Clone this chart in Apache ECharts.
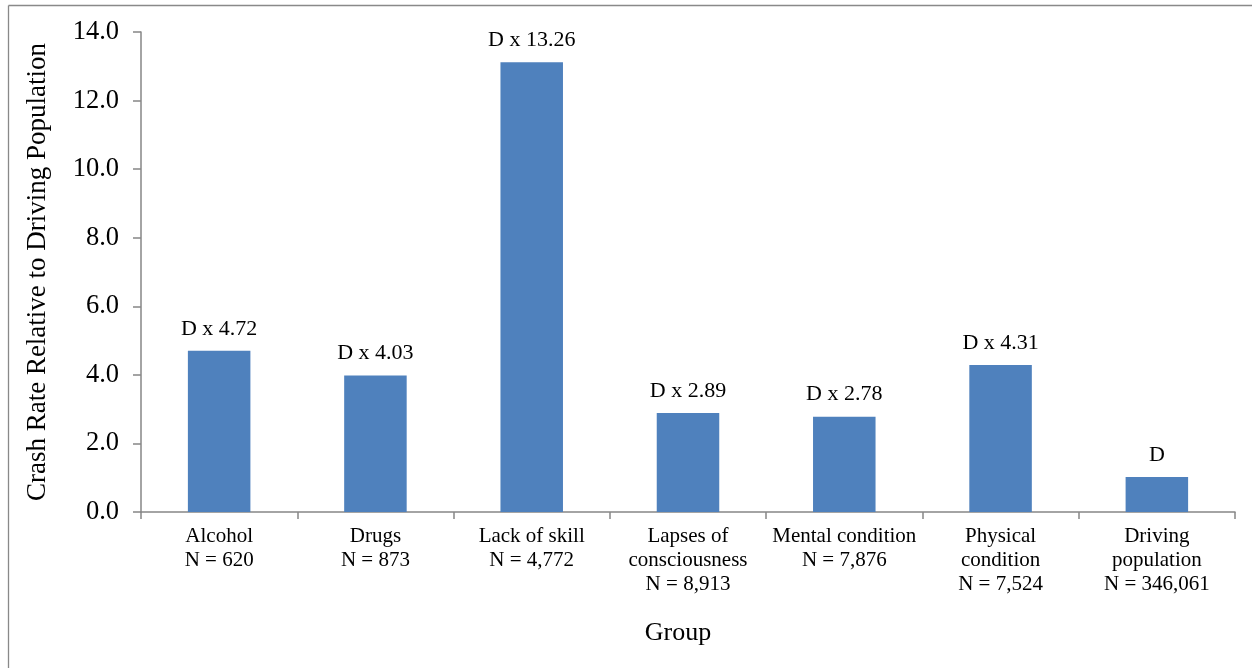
<!DOCTYPE html>
<html>
<head>
<meta charset="utf-8">
<script src="https://cdn.jsdelivr.net/npm/echarts@6/dist/echarts.min.js"></script>
<style>
html,body{margin:0;padding:0;background:#fff;}
#c{width:1252px;height:668px;}
</style>
</head>
<body>
<div id="c"></div>
<script>
var categories = ["Alcohol\nN = 620", "Drugs\nN = 873", "Lack of skill\nN = 4,772", "Lapses of\nconsciousness\nN = 8,913", "Mental condition\nN = 7,876", "Physical\ncondition\nN = 7,524", "Driving\npopulation\nN = 346,061"];
var values = [4.70, 3.98, 13.12, 2.89, 2.78, 4.29, 1.02];
var barLabels = ["D x 4.72", "D x 4.03", "D x 13.26", "D x 2.89", "D x 2.78", "D x 4.31", "D"];
var yTicks = {min: 0, max: 14, interval: 2};

var font = "'Liberation Serif', 'Times New Roman', serif";
var axisColor = '#868686';
var chart = echarts.init(document.getElementById('c'));
chart.setOption({
  animation: false,
  backgroundColor: '#fff',
  graphic: [
    {type: 'line', shape: {x1: 8.5, y1: 5.5, x2: 8.5, y2: 668}, style: {stroke: '#898989', lineWidth: 1.3}},
    {type: 'line', shape: {x1: 8.5, y1: 5.5, x2: 1252, y2: 5.5}, style: {stroke: '#898989', lineWidth: 1.3}}
  ],
  grid: {left: 141, right: 17, top: 32, bottom: 156},
  xAxis: {
    type: 'category',
    data: categories,
    name: 'Group',
    nameLocation: 'middle',
    nameGap: 108,
    nameTextStyle: {fontFamily: font, fontSize: 26, color: '#000', padding: [0, 20, 0, 0]},
    axisLine: {lineStyle: {color: axisColor, width: 1.5}},
    axisTick: {show: true, length: 7, lineStyle: {color: axisColor, width: 1.5}},
    axisLabel: {fontFamily: font, fontSize: 21, color: '#000', lineHeight: 24, margin: 12, interval: 0}
  },
  yAxis: {
    type: 'value',
    min: yTicks.min, max: yTicks.max, interval: yTicks.interval,
    name: 'Crash Rate Relative to Driving Population',
    nameLocation: 'middle',
    nameGap: 90,
    nameTextStyle: {fontFamily: font, fontSize: 27, color: '#000'},
    axisLine: {show: true, lineStyle: {color: axisColor, width: 1.5}},
    axisTick: {show: true, length: 8, lineStyle: {color: axisColor, width: 1.5}},
    splitLine: {show: false},
    axisLabel: {fontFamily: font, fontSize: 26.5, color: '#000', margin: 22,
      formatter: function (v) { return v.toFixed(1); }}
  },
  series: [{
    type: 'bar',
    data: values,
    barCategoryGap: '60%',
    itemStyle: {color: '#4F81BD'},
    label: {
      show: true, position: 'top', distance: 11,
      fontFamily: font, fontSize: 22, color: '#000',
      formatter: function (p) { return barLabels[p.dataIndex]; }
    }
  }]
});
</script>
</body>
</html>
